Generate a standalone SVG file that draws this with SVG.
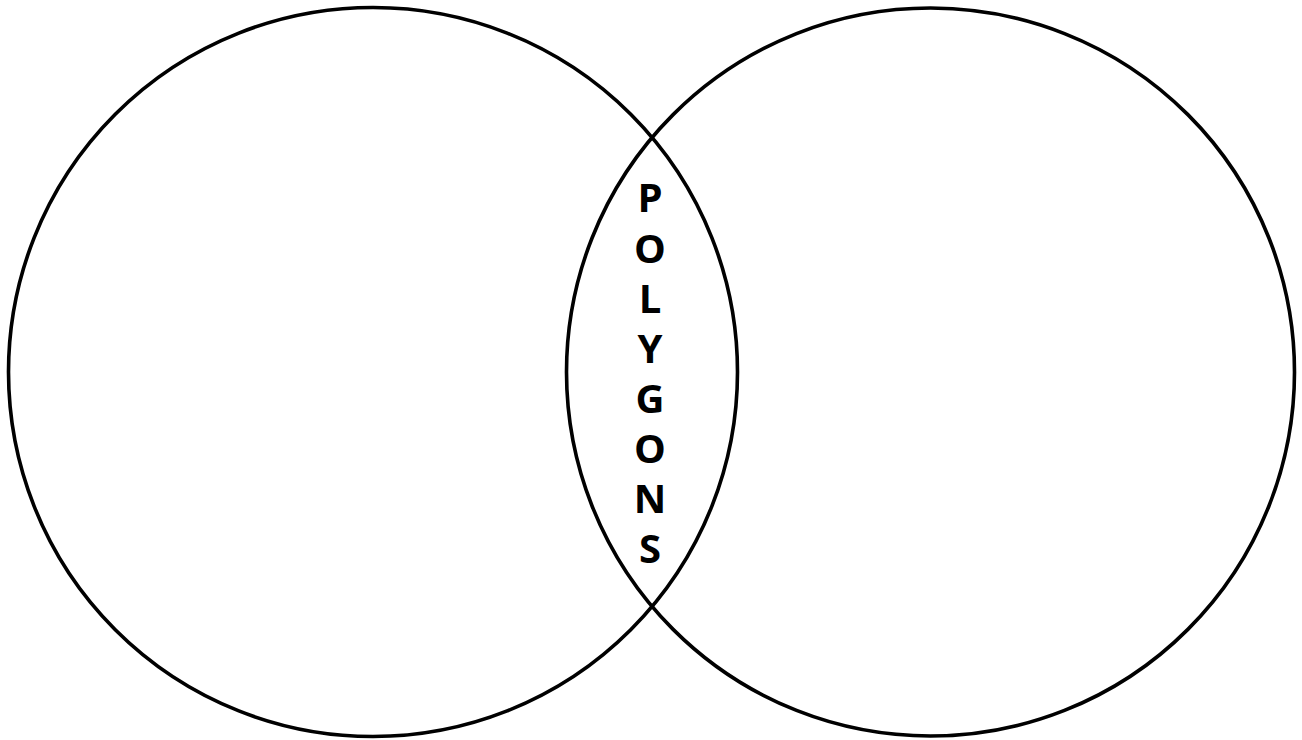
<svg xmlns="http://www.w3.org/2000/svg" width="1302" height="740" viewBox="0 0 1302 740">
<style>
.c{fill:none;stroke:#000;stroke-width:3.6}
.t{font-family:"Open Sans","DejaVu Sans",sans-serif;font-weight:bold;font-size:40px;fill:#000;text-anchor:middle}
</style>
<rect width="1302" height="740" fill="#fff"/>
<g id="left-circle"><circle class="c" cx="373" cy="372" r="364.5"/></g>
<g id="right-circle"><circle class="c" cx="930.5" cy="372" r="364"/></g>
<g id="label">
<text class="t" x="650" y="212">P</text>
<text class="t" x="650" y="263">O</text>
<text class="t" x="650" y="313">L</text>
<text class="t" x="650" y="363">Y</text>
<text class="t" x="650" y="413">G</text>
<text class="t" x="650" y="463">O</text>
<text class="t" x="650" y="513">N</text>
<text class="t" x="650" y="563">S</text>
</g>
</svg>
